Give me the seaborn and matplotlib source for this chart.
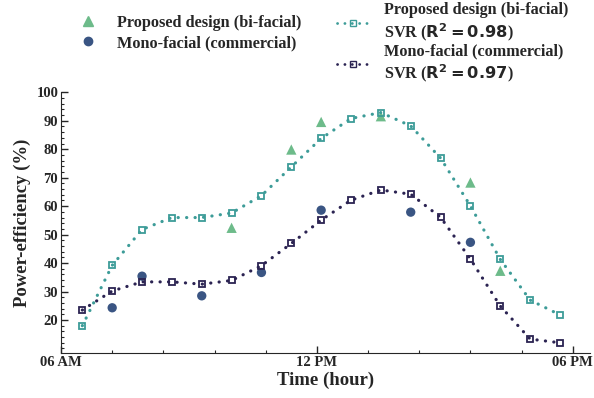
import numpy as np
import pandas as pd
import seaborn as sns
import matplotlib.pyplot as plt
from matplotlib.lines import Line2D
from matplotlib.ticker import MultipleLocator

# heures (décimales) des points SVR
heures = [6.5, 7.2, 7.9, 8.6, 9.3, 10.0, 10.7, 11.4, 12.1, 12.8, 13.5,
          14.2, 14.9, 15.6, 16.3, 17.0, 17.7]

# courbes SVR
svr_bifacial = [18.0, 39.2, 51.8, 56.0, 56.0, 57.6, 63.7, 73.8, 83.8, 90.8,
                92.9, 88.2, 76.9, 60.1, 41.3, 27.0, 21.8]
svr_mono = [23.5, 30.2, 33.4, 33.4, 32.6, 33.9, 39.1, 46.9, 55.1, 62.1,
            65.7, 64.2, 56.1, 41.4, 24.9, 13.3, 12.0]

# mesures
heures_bifacial = [10.0, 11.4, 12.1, 13.5, 15.6, 16.3]
mesures_bifacial = [52.4, 79.9, 89.6, 91.6, 68.3, 37.3]
heures_mono = [7.2, 7.9, 9.3, 10.7, 12.1, 14.2, 15.6]
mesures_mono = [24.3, 35.4, 28.5, 36.7, 58.6, 57.9, 47.3]

col_tri = '#6dbb8a'
col_svr_bi = '#3d9c98'
col_rond = '#3a5583'
col_svr_mono = '#2b2352'

sns.set_style('ticks')
plt.rcParams['font.family'] = ['Liberation Serif', 'DejaVu Serif']
plt.rcParams['mathtext.fontset'] = 'dejavusans'
plt.rcParams['lines.dash_capstyle'] = 'round'

pointille = (0, (0.05, 2.6))

df_svr = pd.DataFrame({'heure': heures, 'bi': svr_bifacial, 'mono': svr_mono})

fig = plt.figure(figsize=(5.94, 3.98), dpi=100)
ax = fig.add_axes([0.1027, 0.113, 0.8903, 0.655])

sns.scatterplot(x=heures_bifacial, y=mesures_bifacial, ax=ax, marker='^', s=55,
                color=col_tri, edgecolor='none', zorder=1)
sns.scatterplot(x=heures_mono, y=mesures_mono, ax=ax, marker='o', s=45,
                color=col_rond, edgecolor='none', zorder=1)
for col, c in [('bi', col_svr_bi), ('mono', col_svr_mono)]:
    sns.lineplot(data=df_svr, x='heure', y=col, ax=ax, color=c, linestyle=pointille,
                 linewidth=2.3, marker='s', markersize=5, markerfacecolor='none',
                 markeredgecolor=c, markeredgewidth=1.3, zorder=2)

ax.set_xlim(6.0, 18.4)
ax.set_ylim(8.4, 100)
ax.set_xticks([6, 12, 18])
ax.set_xticklabels(['06 AM', '12 PM', '06 PM'])
ax.xaxis.set_minor_locator(MultipleLocator(1.2))
ax.yaxis.set_minor_locator(MultipleLocator(2))
ax.set_yticks(range(20, 101, 10))
ax.tick_params(which='both', direction='in', labelsize=10.5, pad=2)
ax.tick_params(which='major', length=5, width=1)
ax.tick_params(which='minor', length=2.5, width=0.8)
for lab in ax.get_xticklabels() + ax.get_yticklabels():
    lab.set_fontweight('bold')
sns.despine(ax=ax)

ax.set_xlabel('Time (hour)', fontsize=13.5, fontweight='bold', labelpad=2)
ax.set_ylabel('Power-efficiency (%)', fontsize=13.5, fontweight='bold', labelpad=4)

# légendes
h1 = [Line2D([], [], linestyle='none', marker='^', color=col_tri, markersize=6.5),
      Line2D([], [], linestyle='none', marker='o', color=col_rond, markersize=6)]
fig.legend(h1, ['Proposed design (bi-facial)', 'Mono-facial (commercial)'],
           loc='upper left', bbox_to_anchor=(0.126, 0.963), frameon=False,
           prop={'weight': 'bold', 'size': 11.7}, handlelength=1.6,
           handletextpad=1.0, labelspacing=0.27, borderaxespad=0, borderpad=0)

h2 = [Line2D([], [], linestyle=pointille, linewidth=2, marker='s', markersize=4.2,
             color=col_svr_bi, markerfacecolor='none'),
      Line2D([], [], linestyle=pointille, linewidth=2, marker='s', markersize=4.2,
             color=col_svr_mono, markerfacecolor='none')]
fig.legend(h2, ['Proposed design (bi-facial)\nSVR ($\\mathbf{R^2 = 0.98}$)',
                'Mono-facial (commercial)\nSVR ($\\mathbf{R^2 = 0.97}$)'],
           loc='upper left', bbox_to_anchor=(0.567, 0.995), frameon=False,
           prop={'weight': 'bold', 'size': 11.7}, handlelength=2.0,
           handletextpad=0.9, labelspacing=0.0, borderaxespad=0, borderpad=0)

fig.savefig('out.png', dpi=100)
